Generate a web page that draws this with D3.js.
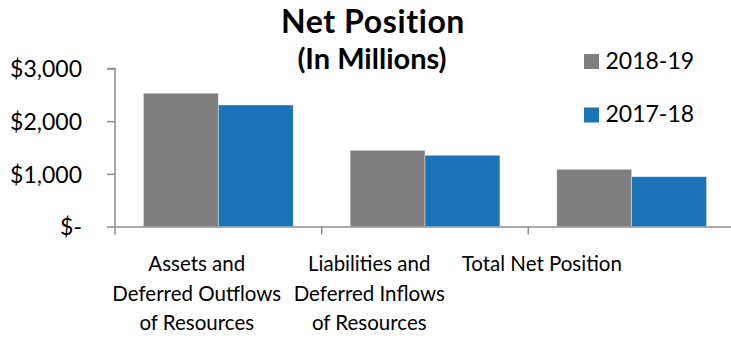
<!DOCTYPE html>
<html><head><meta charset="utf-8">
<script src="https://cdn.jsdelivr.net/npm/d3@7"></script>
<style>
html,body{margin:0;padding:0;background:#fff;}
text{font-family:Lato,"Open Sans",sans-serif;fill:#000;}
</style></head>
<body><svg id="c" width="731" height="339"></svg>
<script>
const categories = [
  ["Assets and", "Deferred Outflows", "of Resources"],
  ["Liabilities and", "Deferred Inflows", "of Resources"],
  ["Total Net Position"]
];
const seriesNames = ["2018-19", "2017-18"];
const values2018_19 = [2530, 1447, 1086];
const values2017_18 = [2307, 1352, 946];
const yTicks = [0, 1000, 2000, 3000];
const yTickLabels = ["$-", "$1,000", "$2,000", "$3,000"];
const colors = ["#7f7f7f", "#1a73b7"];

const svg = d3.select("#c");
const x0 = d3.scaleBand().domain(d3.range(categories.length)).range([115, 735]).paddingInner(0).paddingOuter(0);
const x1 = d3.scaleBand().domain(d3.range(seriesNames.length)).range([0, x0.bandwidth()]).paddingInner(0).paddingOuter(0.38);
const y = d3.scaleLinear().domain([0, 3000]).range([226.5, 68.5]);
const xLab = d3.scaleBand().domain(d3.range(categories.length)).range([110.5, 628]);

const series = [values2018_19, values2017_18];

series.forEach((vals, si) => {
  svg.append("g").selectAll("rect").data(vals).join("rect")
    .attr("x", (d, i) => x0(i) + x1(si))
    .attr("y", d => y(d))
    .attr("width", x1.bandwidth())
    .attr("height", d => y(0) - y(d))
    .attr("fill", colors[si])
    .attr("stroke", "#ffffff").attr("stroke-opacity", 0.5).attr("stroke-width", 0.75);
});

const ya = svg.append("g").attr("transform", "translate(115,0)")
  .call(d3.axisLeft(y).tickValues(yTicks).tickFormat((d, i) => yTickLabels[i]).tickSize(8).tickPadding(25));
ya.select(".domain").attr("stroke", "#8c8c8c").attr("stroke-width", 1.5).attr("d", `M-8,${y(3000)}H0V${y(0)}`);
ya.selectAll(".tick line").attr("stroke", "#8c8c8c").attr("stroke-width", 1.5);
ya.selectAll(".tick text").attr("font-size", 23).attr("font-family", "Lato").attr("fill", "#000").attr("dy", "0.36em");

const xa = svg.append("g").attr("transform", `translate(0,${y(0)})`)
  .call(d3.axisBottom(x0).tickValues([]).tickSizeOuter(0));
xa.select(".domain").attr("stroke", "#8c8c8c").attr("stroke-width", 1.5);
x0.domain().forEach(i => {
  xa.append("line").attr("x1", x0(i)).attr("x2", x0(i)).attr("y1", 0).attr("y2", 8).attr("stroke", "#8c8c8c").attr("stroke-width", 1.5);
});

categories.forEach((lines, i) => {
  const t = svg.append("text").attr("text-anchor", "middle").attr("font-size", 20.5);
  lines.forEach((ln, j) => {
    t.append("tspan").attr("x", xLab(i) + xLab.bandwidth() / 2).attr("y", 271 + j * 29.5).text(ln);
  });
});

svg.append("text").attr("x", 373).attr("y", 33).attr("text-anchor", "middle")
  .attr("font-size", 32).attr("letter-spacing", 0.6).attr("font-weight", "bold").text("Net Position");
svg.append("text").attr("x", 372).attr("y", 69).attr("text-anchor", "middle")
  .attr("font-size", 29).attr("font-weight", "bold").text("(In Millions)");

seriesNames.forEach((s, i) => {
  const g = svg.append("g").attr("transform", `translate(584,${54 + i * 53.5})`);
  g.append("rect").attr("width", 15).attr("height", 15).attr("fill", colors[i]);
  g.append("text").attr("x", 21.5).attr("y", 14.5).attr("font-size", 23).text(s);
});
</script></body></html>
